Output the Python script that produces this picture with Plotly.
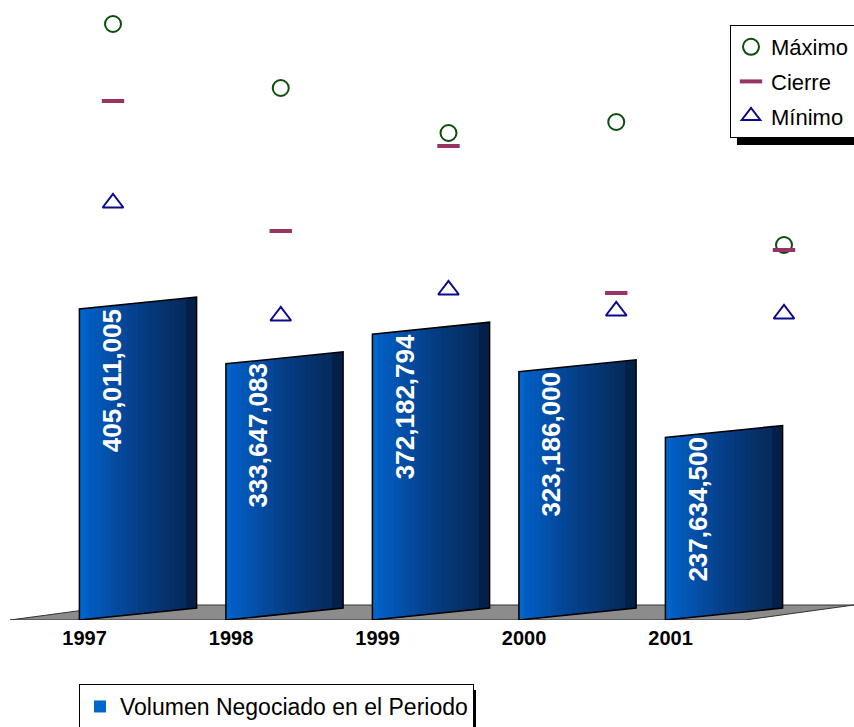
import plotly.graph_objects as go

# --- data ---------------------------------------------------------------
years = ["1997", "1998", "1999", "2000", "2001"]
volumen = [405011005, 333647083, 372182794, 323186000, 237634500]
maximo = [59.6, 53.2, 48.7, 49.8, 37.5]
cierre = [51.9, 38.9, 47.4, 32.7, 37.0]
minimo = [41.7, 30.4, 33.0, 30.9, 30.6]

# --- geometry helpers ---------------------------------------------------
n = len(years)
pos = list(range(n))
bar_w = 0.8
skew = 15.6e6          # perspective rise of the bar's right edge
n_slices = 22

def lerp(c1, c2, t):
    return tuple(round(a + (b - a) * t) for a, b in zip(c1, c2))

c_left = (2, 98, 204)
c_mid = (5, 62, 135)
c_right = (6, 42, 92)
c_side = (4, 32, 72)

W, H, PH = 854, 727, 620
px2x = lambda px: (px - 138) / 146.5      # pixel column -> bar axis
px2py = lambda py: (PH - py) / PH           # pixel row -> paper y

fig = go.Figure()

# floor of the 3D scene
fy = 15 / 0.768 * 1e6
fig.add_shape(type="path",
              path=f"M {px2x(10)},0 L {px2x(745)},0 L {px2x(854)},{fy} L {px2x(122)},{fy} Z",
              xref="x", yref="y", fillcolor="#8c8c8c",
              line=dict(color="#333333", width=1), layer="below")

# bars, drawn as vertical slices to get the shaded cylinder look
for k in range(n_slices):
    f = (k + 0.5) / n_slices
    if f < 0.5:
        col = lerp(c_left, c_mid, f / 0.5)
    elif f < 0.9:
        col = lerp(c_mid, c_right, (f - 0.5) / 0.4)
    else:
        col = c_side
    fig.add_trace(go.Bar(
        x=[p - bar_w / 2 + f * bar_w for p in pos],
        y=volumen,
        base=[skew * f] * n,
        width=bar_w / n_slices * 1.08,
        marker=dict(color=f"rgb{col}" if k else "rgb(0,102,204)",
                    line=dict(width=0)),
        name="Volumen Negociado en el Periodo",
        showlegend=(k == 0),
        legend="legend2",
        hoverinfo="skip",
    ))

# bar outlines
ox, oy = [], []
for p, v in zip(pos, volumen):
    xl, xr = p - bar_w / 2, p + bar_w / 2
    ox += [xl, xr, xr, xl, xl, None]
    oy += [0, skew, v + skew, v, 0, None]
fig.add_trace(go.Scatter(x=ox, y=oy, mode="lines",
                         line=dict(color="black", width=1.5),
                         showlegend=False, hoverinfo="skip"))

# value labels written vertically inside each bar
tf = 0.275
fig.add_trace(go.Bar(
    x=[p - 0.18 for p in pos], y=volumen, base=[skew * tf] * n, width=0.22,
    marker=dict(color="rgba(0,0,0,0)", line=dict(width=0)),
    text=[f"{v:,}" for v in volumen], textposition="inside",
    insidetextanchor="end", textangle=-90, constraintext="none",
    textfont=dict(family="Liberation Sans, Arial", size=26, color="white",
                  weight="bold"),
    showlegend=False, hoverinfo="skip",
))

# price markers on the secondary axes
fig.add_trace(go.Scatter(
    x=pos, y=maximo, xaxis="x2", yaxis="y2", mode="markers", name="Máximo",
    legendgroup="max",
    marker=dict(symbol="circle-open", size=16, color="#0b4d0b",
                line=dict(width=2, color="#0b4d0b")),
))
fig.add_trace(go.Scatter(
    x=pos, y=cierre, xaxis="x2", yaxis="y2", mode="markers", name="Cierre",
    legendgroup="cie",
    marker=dict(symbol="line-ew", size=16, color="#993366",
                line=dict(width=4, color="#993366")),
))
fig.add_trace(go.Scatter(
    x=pos, y=minimo, xaxis="x2", yaxis="y2", mode="markers", name="Mínimo",
    legendgroup="min",
    marker=dict(symbol="triangle-up-open", size=18, color="#0a0a8c",
                line=dict(width=2, color="#0a0a8c")),
))

# drop shadows of the two legend boxes
fig.add_shape(type="rect", xref="paper", yref="paper",
              x0=737 / W, x1=1.0, y0=px2py(145), y1=px2py(136),
              fillcolor="black", line=dict(width=0), layer="below")
fig.add_shape(type="rect", xref="paper", yref="paper",
              x0=469 / W, x1=476 / W, y0=px2py(727), y1=px2py(690),
              fillcolor="black", line=dict(width=0), layer="below")

font_main = "Liberation Sans, Arial, sans-serif"

fig.update_layout(
    width=W, height=H,
    margin=dict(l=0, r=0, t=0, b=H - PH, autoexpand=False),
    paper_bgcolor="white", plot_bgcolor="white",
    barmode="overlay", bargap=0,
    font=dict(family=font_main, size=23, color="black"),
    xaxis=dict(range=[px2x(0), px2x(854)], tickvals=[p - 0.365 for p in pos],
               ticktext=years, showgrid=False, zeroline=False,
               showline=False, ticks="", ticklabelstandoff=4,
               tickfont=dict(size=20, weight="bold", family=font_main)),
    yaxis=dict(range=[0, PH / 0.768 * 1e6], visible=False),
    xaxis2=dict(range=[(0 - 113) / 167.75, (854 - 113) / 167.75],
                overlaying="x", visible=False),
    yaxis2=dict(range=[0, 62], overlaying="y", visible=False),
    legend=dict(x=730 / W, y=px2py(25), xanchor="left",
                yanchor="top", bgcolor="white", bordercolor="black",
                borderwidth=1, traceorder="grouped", tracegroupgap=3,
                font=dict(size=22), itemwidth=30),
    legend2=dict(x=79 / W, y=px2py(684), xanchor="left",
                 yanchor="top", bgcolor="white", bordercolor="black",
                 borderwidth=1, font=dict(size=23), itemwidth=30),
)

fig.write_html("out.html")
